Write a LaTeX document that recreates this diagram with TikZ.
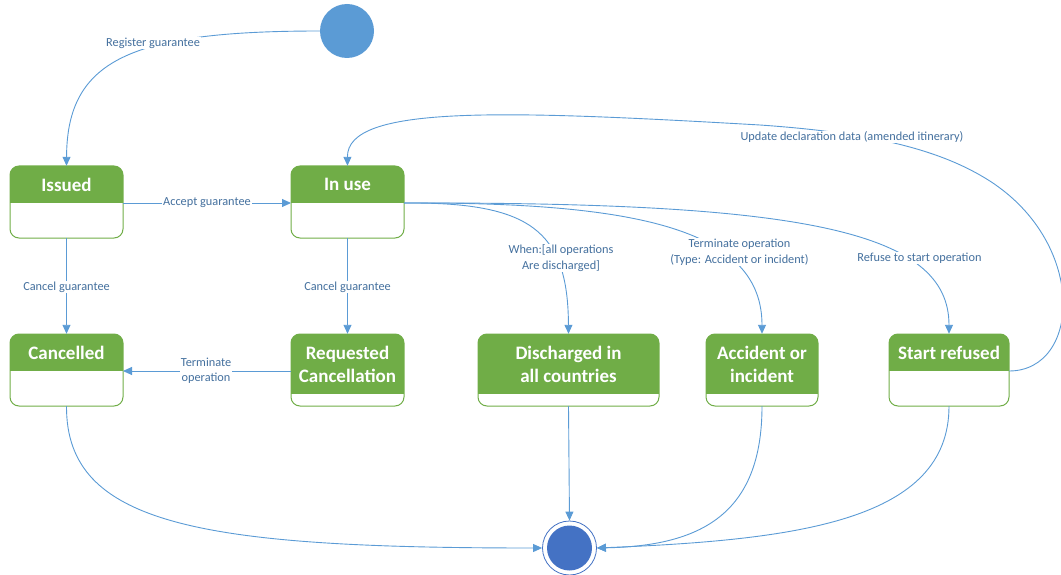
\documentclass[tikz,border=0pt]{standalone}
\usepackage{fontspec}
\setmainfont{Carlito}
\usetikzlibrary{arrows.meta,fit}
\definecolor{stgreen}{HTML}{70AD47}
\definecolor{connblue}{HTML}{5B9BD5}
\definecolor{lbltxt}{HTML}{44709E}
\definecolor{finalc}{HTML}{4472C4}
\tikzset{
  connector/.style={draw=connblue, line width=0.9pt, -{Triangle[length=9pt,width=8pt]}},
  lbl/.style={fill=white, text=lbltxt, font=\fontsize{12.3}{15.5}\selectfont, align=center, inner sep=1pt},
  sttitle/.style={text=white, font=\fontsize{19}{23}\selectfont\bfseries, align=center, inner sep=0pt},
  stframe/.style={draw=stgreen, line width=1pt, rounded corners=9pt},
}
\newcommand\mkstate[7]{%
  \begin{scope}
    \clip[rounded corners=9pt] (#2,#3) rectangle (#4,#5);
    \fill[stgreen] (#2,#3) rectangle (#4,#6);
  \end{scope}
  \draw[stframe] (#2,#3) rectangle (#4,#5);
  \node[fit={(#2,#3) (#4,#5)}, inner sep=0pt] (#1) {};
  \coordinate (#1-w) at (#2,#6);
  \coordinate (#1-e) at (#4,#6);
  \node[sttitle] (#1-t) at ({(#2+#4)/2},{(#3+#6)/2}) {#7};
}
\begin{document}
\begin{tikzpicture}[x=1pt, y=-1pt]
\useasboundingbox (0,0) rectangle (1061,575);

% start and final
\node[circle, fill=connblue, minimum size=54pt, inner sep=0pt] (start) at (347,31) {};
\node[circle, draw=finalc, line width=0.8pt, fill=white, minimum size=54pt, inner sep=0pt] (final) at (569.5,548) {};
\node[circle, fill=finalc, minimum size=45pt, inner sep=0pt] (finalin) at (final) {};

% states
\mkstate{issued}{10}{166}{123}{238}{203}{Issued}
\mkstate{inuse}{291}{166}{404}{238}{203}{In use}
\mkstate{cancelled}{10}{334}{123}{406}{371}{Cancelled}
\mkstate{reqcanc}{291}{334}{404}{406}{394}{Requested\\Cancellation}
\mkstate{discharged}{478}{334}{659}{406}{394}{Discharged in\\all countries}
\mkstate{accident}{706}{334}{818}{406}{394}{Accident or\\incident}
\mkstate{refused}{889}{334}{1009}{406}{371}{Start refused}

% connectors
\draw[connector] (start.west) .. controls (130,31) and (67,60) .. (issued.north);
\draw[connector] (issued-e) -- (inuse-w);
\draw[connector] (issued.south) -- (cancelled.north);
\draw[connector] (inuse.south) -- (reqcanc.north);
\draw[connector] (reqcanc.west |- cancelled-e) -- (cancelled-e);
\draw[connector] (inuse-e) .. controls (530,202) and (568,230) .. (discharged.north);
\draw[connector] (inuse-e) .. controls (640,202) and (762,230) .. (accident.north);
\draw[connector] (inuse-e) .. controls (800,202) and (949,230) .. (refused.north);
\draw[connector] (refused-e) .. controls (1082,371) and (1088,240) .. (985,178)
   .. controls (932,146) and (860,132) .. (760,125)
   .. controls (500,110) and (347,105) .. (inuse.north);
\draw[connector] (cancelled.south) .. controls (66,525) and (200,548) .. (final.west);
\draw[connector] (discharged.south) -- (final.north);
\draw[connector] (accident.south) .. controls (762,515) and (700,546) .. (final.east);
\draw[connector] (refused.south) .. controls (949,520) and (800,540) .. (final.east);

% labels
\node[lbl] (l1) at (153,43) {Register guarantee};
\node[lbl] (l2) at (207,203) {Accept guarantee};
\node[lbl] (l3) at (66.5,287) {Cancel guarantee};
\node[lbl] (l4) at (347.5,287) {Cancel guarantee};
\node[lbl] (l5) at (206,371) {Terminate\\operation};
\node[lbl] (l6) at (561,258) {When:[all operations\\Are discharged]};
\node[lbl] (l7) at (739.5,252) {Terminate operation\\(Type: Accident or incident)};
\node[lbl] (l8) at (919.5,258) {Refuse to start operation};
\node[lbl] (l9) at (852,137) {Update declaration data (amended itinerary)};
\end{tikzpicture}
\end{document}
